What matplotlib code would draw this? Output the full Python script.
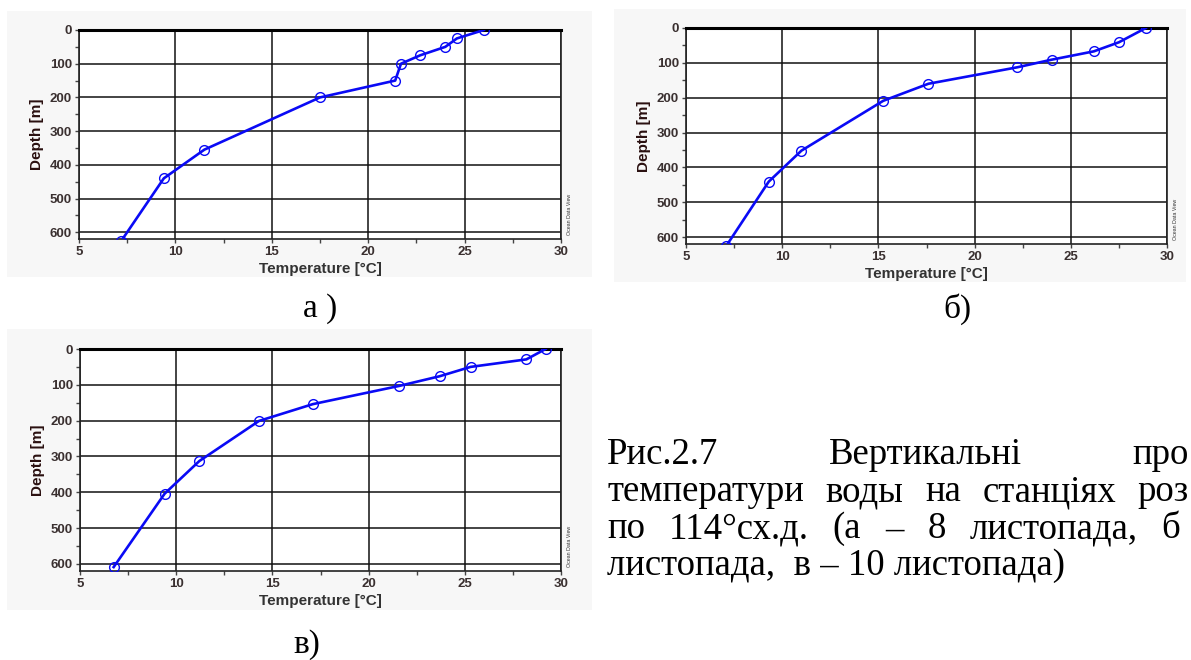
import matplotlib
matplotlib.use("Agg")
import matplotlib.pyplot as plt
from matplotlib.patches import Rectangle
from matplotlib.ticker import MultipleLocator

# temperature profiles (temperature in degC, depth in m)
temp_a = [26.0, 24.6, 24.0, 22.7, 21.7, 21.4, 17.5, 11.5, 9.4, 7.2]
depth_a = [0, 25, 50, 75, 100, 150, 200, 355, 440, 625]

temp_b = [28.9, 27.5, 26.2, 24.0, 22.2, 17.6, 15.25, 11.0, 9.3, 7.1]
depth_b = [0, 41, 67, 91, 113, 160, 209, 352, 441, 625]

temp_c = [29.2, 28.2, 25.3, 23.7, 21.6, 17.1, 14.3, 11.2, 9.4, 6.75]
depth_c = [0, 29, 50, 76, 103, 154, 201, 313, 404, 609]

x_ticks = [5, 10, 15, 20, 25, 30]
y_ticks = [0, 100, 200, 300, 400, 500, 600]
panel_labels = ["а )", "б)", "в)"]

caption_lines = [
    ["Рис.2.7", "Вертикальні", "про"],
    ["температури", "воды", "на", "станціях", "роз"],
    ["по", "114°сх.д.", "(а", "–", "8", "листопада,", "б"],
    ["листопада,  в – 10 листопада)"],
]

W, H = 1191, 660
fig = plt.figure(figsize=(W / 100, H / 100), dpi=100)
fig.patch.set_facecolor("white")


def fx(x):
    return x / W


def fy(y):
    return 1 - y / H


def frame_box(x0, y0, x1, y1):
    fig.add_artist(Rectangle((fx(x0), fy(y1)), fx(x1 - x0), (y1 - y0) / H,
                             transform=fig.transFigure, facecolor="#f7f7f7",
                             edgecolor="none", zorder=0))


def profile(box, temps, depths):
    l, r, t, b = box
    ax = fig.add_axes([fx(l), fy(b), fx(r - l), (b - t) / H])
    ax.set_facecolor("white")
    ax.plot(temps, depths, color="#0a0af5", lw=1.9, marker="o", ms=7,
            mfc="none", mec="#0a0af5", mew=1.0, zorder=3)
    ax.set_xlim(5, 30)
    ax.set_ylim(620, 0)
    ax.set_xticks(x_ticks)
    ax.set_yticks(y_ticks)
    ax.xaxis.set_minor_locator(MultipleLocator(2.5))
    ax.yaxis.set_minor_locator(MultipleLocator(50))
    ax.grid(True, which="major", color="#111111", lw=1.1)
    ax.tick_params(which="both", direction="out", length=3, width=1,
                   color="#444444", labelsize=9.5, labelcolor="#3a3030", pad=2)
    for lab in ax.get_xticklabels() + ax.get_yticklabels():
        lab.set_fontweight("bold")
        lab.set_family(["Liberation Sans", "DejaVu Sans"])
    for side in ["bottom", "right", "left"]:
        ax.spines[side].set_color("#222222")
        ax.spines[side].set_linewidth(1.2)
    ax.spines["top"].set_color("black")
    ax.spines["top"].set_linewidth(2.2)
    ax.set_xlabel("Temperature [°C]", fontsize=11, fontweight="bold",
                  color="#333333", family=["Liberation Sans", "DejaVu Sans"],
                  labelpad=3)
    ax.set_ylabel("Depth [m]", fontsize=11, fontweight="bold",
                  color="#2a1010", family=["Liberation Sans Narrow", "Liberation Sans"],
                  labelpad=4)
    ax.text(1.012, 0.02, "Ocean Data View", transform=ax.transAxes,
            rotation=90, fontsize=3.8, color="#333333", ha="left", va="bottom",
            family=["Liberation Sans", "DejaVu Sans"])
    return ax


frame_box(7, 11, 592, 277)
frame_box(614, 9, 1186, 282)
frame_box(7, 329, 592, 610)

profile((79, 561, 30, 239), temp_a, depth_a)
profile((686, 1167, 28, 244), temp_b, depth_b)
profile((80, 561, 349, 571), temp_c, depth_c)

serif = ["Liberation Serif", "DejaVu Serif"]
label_pos = [(320, 309), (957, 309), (307, 645)]
for text, (x, y) in zip(panel_labels, label_pos):
    fig.text(fx(x), fy(y), text, fontsize=24, family=serif, ha="center", va="center")

# caption block: justified lines, the last line left as is
line_y = [455, 492, 529, 566]
line_right = [1189, 1189, 1180, None]
left_x = 607
renderer = fig.canvas.get_renderer()
for words, y, right in zip(caption_lines, line_y, line_right):
    items = [fig.text(0, fy(y), w, fontsize=26.5, family=serif, ha="left", va="center")
             for w in words]
    widths = [t.get_window_extent(renderer).width for t in items]
    if right is None or len(items) == 1:
        gap = 0
    else:
        gap = (right - left_x - sum(widths)) / (len(items) - 1)
    x = left_x
    for t, w in zip(items, widths):
        t.set_x(fx(x))
        x += w + gap

fig.savefig("out.png", dpi=100)
